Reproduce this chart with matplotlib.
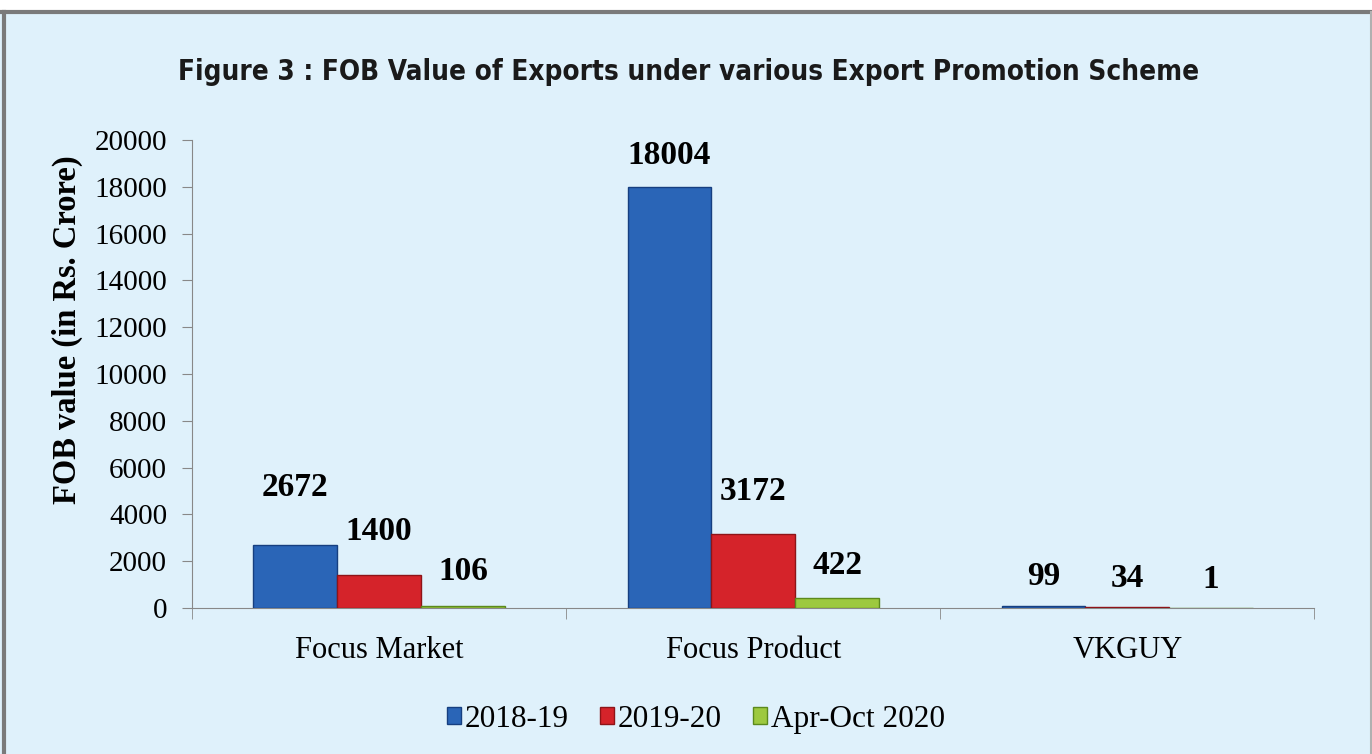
import numpy as np
import matplotlib.pyplot as plt
from matplotlib.lines import Line2D

# data
schemes = ["Focus Market", "Focus Product", "VKGUY"]
years = ["2018-19", "2019-20", "Apr-Oct 2020"]
fob_2018 = [2672, 18004, 99]
fob_2019 = [1400, 3172, 34]
fob_2020 = [106, 422, 1]
yticks = [0, 2000, 4000, 6000, 8000, 10000, 12000, 14000, 16000, 18000, 20000]

# label lift above bar top, in pixels (labels were hand placed in the original)
lift = [[58, 31, 29], [44, 42, 29], [34, 33, 29]]

bg = "#dff1fb"
colors = ["#2a65b7", "#d5232a", "#9dc93f"]
edges = ["#163f80", "#8e1418", "#5b8a1c"]

plt.rcParams['font.family'] = ['Liberation Serif', 'DejaVu Serif']

fig = plt.figure(figsize=(13.72, 7.54), dpi=100, facecolor=bg)
ax = fig.add_axes([0.140, 0.1936, 0.818, 0.6207])
ax.set_facecolor(bg)

x = np.arange(len(schemes))
w = 0.224
series = [fob_2018, fob_2019, fob_2020]
for i, vals in enumerate(series):
    bars = ax.bar(x + (i - 1) * w, vals, w, color=colors[i], edgecolor=edges[i],
                  linewidth=1.0, label=years[i], zorder=3)
    for j, b in enumerate(bars):
        ax.annotate(str(vals[j]), (b.get_x() + b.get_width() / 2, b.get_height()),
                    xytext=(0, lift[i][j]), textcoords='offset pixels',
                    ha='center', va='center', fontsize=24, fontweight='bold')

ax.set_xlim(-0.5, 2.5)
ax.set_ylim(0, 20000)
ax.set_yticks(yticks)
ax.tick_params(axis='y', labelsize=21, length=7, color='#888888', pad=11)
ax.set_xticks(x)
ax.set_xticklabels(schemes, fontsize=22)
ax.tick_params(axis='x', length=0, pad=20)
ax.set_xticks([-0.5, 0.5, 1.5, 2.5], minor=True)
ax.tick_params(axis='x', which='minor', length=8, color='#888888')
for s in ['top', 'right']:
    ax.spines[s].set_visible(False)
ax.spines['left'].set_color('#888888')
ax.spines['bottom'].set_color('#888888')

ax.set_ylabel("FOB value (in Rs. Crore)", fontsize=23.5, fontweight='bold')
ax.yaxis.set_label_coords(-0.097, 0.594)

fig.text(0.502, 0.905, "Figure 3 : FOB Value of Exports under various Export Promotion Scheme",
         ha='center', va='center', fontsize=20, family='DejaVu Sans',
         fontstretch='condensed', fontweight='bold', color='#1a1a1a')

leg = fig.legend(loc='center', bbox_to_anchor=(0.507, 0.046), ncol=3, frameon=False,
                 fontsize=22.5, handlelength=0.45, handleheight=0.45, handletextpad=0.12,
                 columnspacing=1.0)

# frame decoration: white strip on top and grey border
fig.patches.append(plt.Rectangle((0, 0.985), 1, 0.015, transform=fig.transFigure,
                                 facecolor='white', edgecolor='none', zorder=0))
fig.add_artist(Line2D([0, 1], [0.984, 0.984], color='#7a7a7a', lw=3, transform=fig.transFigure))
fig.add_artist(Line2D([0.003, 0.003], [0, 0.984], color='#7a7a7a', lw=3, transform=fig.transFigure))
fig.add_artist(Line2D([0.999, 0.999], [0, 0.984], color='#b0b0b0', lw=1.5, transform=fig.transFigure))

fig.savefig("out.png", dpi=100, facecolor=bg)
